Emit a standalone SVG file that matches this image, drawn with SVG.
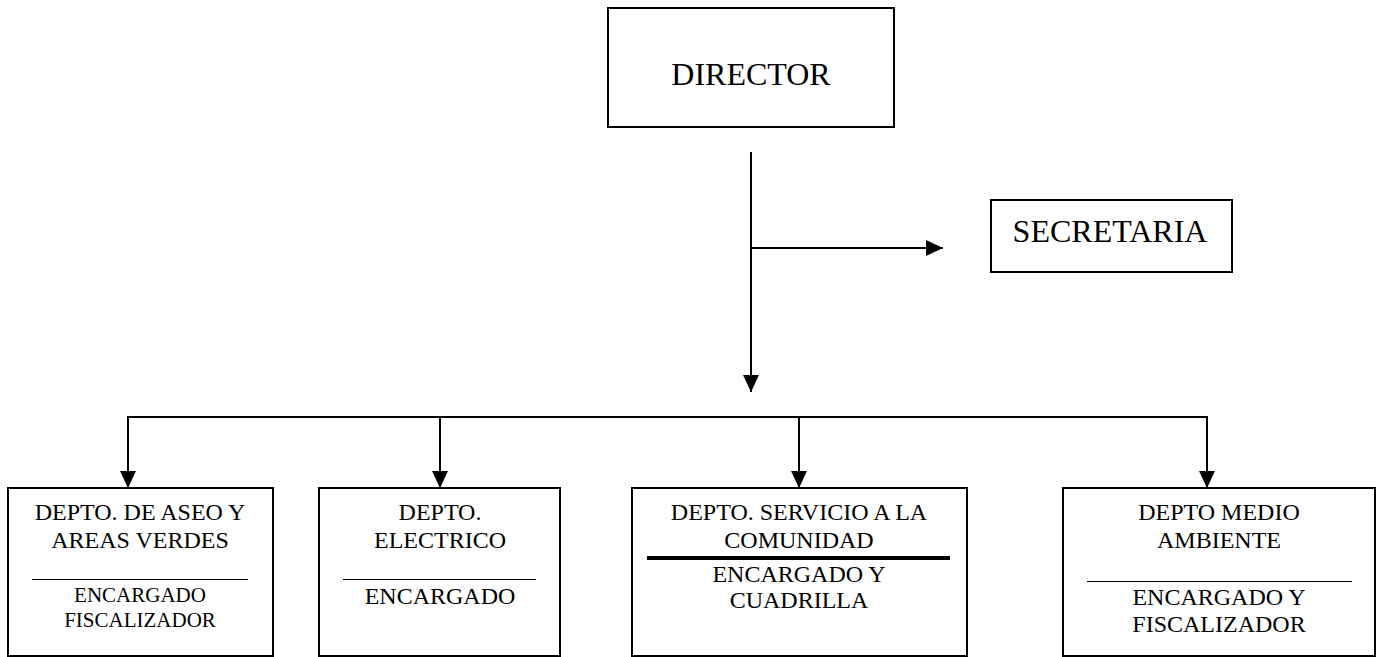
<svg xmlns="http://www.w3.org/2000/svg" width="1378" height="657" viewBox="0 0 1378 657">
<style>
.box{fill:#fff;stroke:#000;stroke-width:2}
.t{font-family:"Liberation Serif","Times New Roman",serif;fill:#000;text-anchor:middle}
.big{font-size:32px}
.md{font-size:24px}
.sm{font-size:21px}
.sep{stroke:#000;stroke-width:1.2}
.con{stroke:#000;stroke-width:2;fill:none}
</style>
<defs>
<marker id="ah" markerUnits="userSpaceOnUse" markerWidth="17" markerHeight="16" refX="17" refY="8" orient="auto">
<path d="M0,0 L17,8 L0,16 Z" fill="#000"/>
</marker>
</defs>
<rect width="1378" height="657" fill="#fff"/>
<g id="connectors">
<line class="con" x1="751" y1="152" x2="751" y2="392" marker-end="url(#ah)"/>
<line class="con" x1="751" y1="248" x2="943" y2="248" marker-end="url(#ah)"/>
<line class="con" x1="127" y1="417" x2="1208" y2="417"/>
<line class="con" x1="128" y1="416" x2="128" y2="488" marker-end="url(#ah)"/>
<line class="con" x1="440" y1="416" x2="440" y2="488" marker-end="url(#ah)"/>
<line class="con" x1="799" y1="416" x2="799" y2="488" marker-end="url(#ah)"/>
<line class="con" x1="1207" y1="416" x2="1207" y2="488" marker-end="url(#ah)"/>
</g>
<g id="director">
<rect class="box" x="608" y="8" width="286" height="119"/>
<text class="t big" x="751" y="85">DIRECTOR</text>
</g>
<g id="secretaria">
<rect class="box" x="991" y="200" width="241" height="72"/>
<text class="t big" x="1110" y="242">SECRETARIA</text>
</g>
<g id="aseo">
<rect class="box" x="8" y="488" width="265" height="168"/>
<text class="t md" x="140" y="520">DEPTO. DE ASEO Y</text>
<text class="t md" x="140" y="548">AREAS VERDES</text>
<line class="sep" x1="32" y1="579.5" x2="248" y2="579.5"/>
<text class="t sm" x="140" y="602">ENCARGADO</text>
<text class="t sm" x="140" y="627">FISCALIZADOR</text>
</g>
<g id="electrico">
<rect class="box" x="319" y="488" width="241" height="168"/>
<text class="t md" x="440" y="520">DEPTO.</text>
<text class="t md" x="440" y="548">ELECTRICO</text>
<line class="sep" x1="343" y1="579.5" x2="536" y2="579.5"/>
<text class="t md" x="440" y="604">ENCARGADO</text>
</g>
<g id="servicio">
<rect class="box" x="632" y="488" width="335" height="168"/>
<text class="t md" x="799" y="520">DEPTO. SERVICIO A LA</text>
<text class="t md" x="799" y="548">COMUNIDAD</text>
<line x1="647" y1="558" x2="950" y2="558" stroke="#000" stroke-width="4"/>
<text class="t md" x="799" y="582">ENCARGADO Y</text>
<text class="t md" x="799" y="608">CUADRILLA</text>
</g>
<g id="medio">
<rect class="box" x="1063" y="488" width="312" height="168"/>
<text class="t md" x="1219" y="520">DEPTO MEDIO</text>
<text class="t md" x="1219" y="548">AMBIENTE</text>
<line class="sep" x1="1087" y1="581.5" x2="1352" y2="581.5"/>
<text class="t md" x="1219" y="605">ENCARGADO Y</text>
<text class="t md" x="1219" y="632">FISCALIZADOR</text>
</g>
</svg>
